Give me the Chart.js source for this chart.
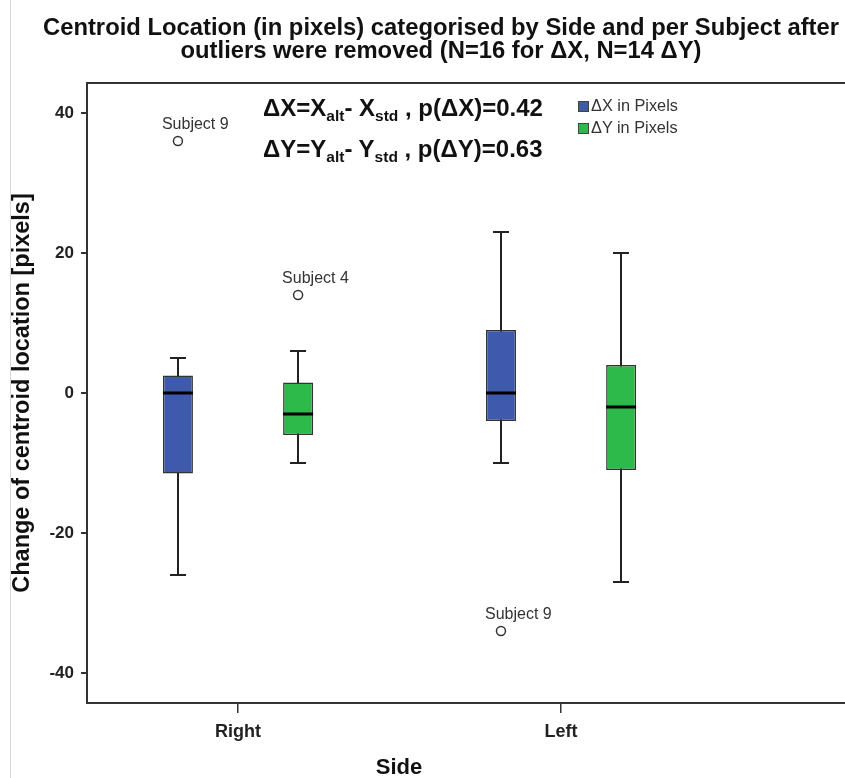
<!DOCTYPE html>
<html>
<head>
<meta charset="utf-8">
<script src="https://cdn.jsdelivr.net/npm/chart.js@4.4.1/dist/chart.umd.min.js"></script>
<style>
  body { margin: 0; background: #fff; font-family: "Liberation Sans", Arial, sans-serif; }
  #wrap { position: relative; width: 845px; height: 778px; overflow: hidden; }
  #chart { position: absolute; left: 0; top: 0; }
  #edge { position: absolute; left: 10px; top: 0; width: 1px; height: 778px; background: #d8d8d8; }
  #title { position: absolute; left: 0; top: 15px; width: 882px; text-align: center; font-weight: bold; font-size: 23.8px; line-height: 23px; color: #111; white-space: nowrap; }
  #xtitle { position: absolute; left: 299px; top: 754px; width: 200px; text-align: center; font-weight: bold; font-size: 22px; line-height: 26px; color: #111; }
  .formula { position: absolute; left: 263px; font-weight: bold; font-size: 24px; color: #111; white-space: nowrap; line-height: 26px; }
  .formula .s { font-size: 15.5px; position: relative; top: 5px; }
  #legend { position: absolute; left: 578px; top: 96px; font-size: 16.3px; color: #333; }
  #legend div { height: 22px; line-height: 18px; white-space: nowrap; }
  #legend span.box { display: inline-block; width: 11px; height: 11px; border: 1px solid #444; vertical-align: -1px; margin-right: 2px; box-sizing: border-box; }
</style>
</head>
<body>
<div id="wrap">
  <canvas id="chart" width="845" height="778"></canvas>
  <div id="edge"></div>
  <div id="title">Centroid Location (in pixels) categorised by Side and per Subject after<br>outliers were removed (N=16 for ΔX, N=14 ΔY)</div>
  <div class="formula" style="top:95px">ΔX=X<span class="s">alt</span>- X<span class="s">std</span> , p(ΔX)=0.42</div>
  <div class="formula" style="top:136px">ΔY=Y<span class="s">alt</span>- Y<span class="s">std</span> , p(ΔY)=0.63</div>
  <div id="legend"></div>
  <div id="xtitle">Side</div>
</div>
<script>
const categories = ["Right", "Left"];
const seriesNames = ["ΔX in Pixels", "ΔY in Pixels"];
const seriesColors = ["#3f59ad", "#2eb94b"];

// box plot statistics per category (Right, Left)
const dxLow = [-26, -10];
const dxQ1 = [-11.5, -4];
const dxMedian = [0, 0];
const dxQ3 = [2.5, 9];
const dxHigh = [5, 23];

const dyLow = [-10, -27];
const dyQ1 = [-6, -11];
const dyMedian = [-3, -2];
const dyQ3 = [1.5, 4];
const dyHigh = [6, 20];

// outliers
const outlierCategory = ["Right", "Right", "Left"];
const outlierSeries = [0, 1, 0];
const outlierValue = [36, 14, -34];
const outlierName = ["Subject 9", "Subject 4", "Subject 9"];

const yTicks = [-40, -20, 0, 20, 40];

const seriesOffset = [-0.186, 0.186];
const stats = [
  { low: dxLow, q1: dxQ1, median: dxMedian, q3: dxQ3, high: dxHigh },
  { low: dyLow, q1: dyQ1, median: dyMedian, q3: dyQ3, high: dyHigh },
];

Chart.defaults.font.family = "'Liberation Sans', Arial, sans-serif";

let legend = document.getElementById("legend");
for (let i = 0; i < seriesNames.length; i++) {
  let row = document.createElement("div");
  row.innerHTML = '<span class="box" style="background:' + seriesColors[i] + '"></span>' + seriesNames[i];
  legend.appendChild(row);
}

function boxDataset(s) {
  return {
    type: "bar",
    label: seriesNames[s],
    data: categories.map((c, i) => ({ x: i + 1 + seriesOffset[s], y: [stats[s].q1[i], stats[s].q3[i]] })),
    backgroundColor: seriesColors[s],
    borderColor: "#333",
    borderWidth: 1.5,
    borderSkipped: false,
    grouped: false,
    maxBarThickness: 30,
    stat: s,
  };
}

let outlierData = [];
for (let i = 0; i < outlierValue.length; i++) {
  outlierData.push({
    x: categories.indexOf(outlierCategory[i]) + 1 + seriesOffset[outlierSeries[i]],
    y: outlierValue[i],
  });
}

// whiskers, medians, outlier names and top frame line
const boxPlotPlugin = {
  id: "boxplot",
  beforeDatasetsDraw(chart) {
    let ctx = chart.ctx;
    let y = chart.scales.y;
    let area = chart.chartArea;
    ctx.save();
    ctx.strokeStyle = "#333";
    ctx.lineWidth = 2;
    ctx.beginPath();
    ctx.moveTo(area.left - 1, area.top);
    ctx.lineTo(chart.width, area.top);
    ctx.stroke();
    chart.data.datasets.forEach((ds, d) => {
      if (ds.stat === undefined) return;
      let st = stats[ds.stat];
      chart.getDatasetMeta(d).data.forEach((bar, i) => {
        let cx = Math.round(bar.x);
        let yl = y.getPixelForValue(st.low[i]);
        let yh = y.getPixelForValue(st.high[i]);
        ctx.strokeStyle = "#222";
        ctx.lineWidth = 2;
        ctx.beginPath();
        ctx.moveTo(cx, yl);
        ctx.lineTo(cx, yh);
        ctx.moveTo(cx - 8, yl);
        ctx.lineTo(cx + 8, yl);
        ctx.moveTo(cx - 8, yh);
        ctx.lineTo(cx + 8, yh);
        ctx.stroke();
      });
    });
    ctx.restore();
  },
  afterDatasetsDraw(chart) {
    let ctx = chart.ctx;
    let y = chart.scales.y;
    ctx.save();
    chart.data.datasets.forEach((ds, d) => {
      let meta = chart.getDatasetMeta(d);
      if (ds.stat !== undefined) {
        let st = stats[ds.stat];
        meta.data.forEach((bar, i) => {
          let ym = y.getPixelForValue(st.median[i]);
          ctx.strokeStyle = "#000";
          ctx.lineWidth = 3;
          ctx.beginPath();
          ctx.moveTo(bar.x - bar.width / 2, ym);
          ctx.lineTo(bar.x + bar.width / 2, ym);
          ctx.stroke();
        });
      } else {
        ctx.fillStyle = "#333";
        ctx.font = "16px 'Liberation Sans', Arial, sans-serif";
        ctx.textAlign = "left";
        ctx.textBaseline = "middle";
        meta.data.forEach((pt, i) => {
          ctx.fillText(outlierName[i], pt.x - 16, pt.y - 16);
        });
      }
    });
    ctx.restore();
  },
};

let config = {
  type: "bar",
  data: {
    datasets: [
      boxDataset(0),
      boxDataset(1),
      {
        type: "scatter",
        label: "Outliers",
        data: outlierData,
        pointRadius: 4.5,
        pointBackgroundColor: "#fff",
        pointBorderColor: "#333",
        pointBorderWidth: 1.5,
      },
    ],
  },
  options: {
    responsive: false,
    animation: false,
    layout: { autoPadding: false, padding: { top: 83, right: 0, left: 0, bottom: 0 } },
    plugins: {
      legend: { display: false },
      tooltip: { enabled: false },
      title: { display: false },
    },
    scales: {
      x: {
        type: "linear",
        offset: false,
        min: 0.5325,
        max: 2.879,
        afterFit: (s) => {
          s.height = 75;
          s.paddingLeft = 0;
          s.paddingRight = 0;
        },
        afterBuildTicks: (s) => {
          s.ticks = categories.map((c, i) => ({ value: i + 1 }));
        },
        ticks: {
          callback: (v) => categories[Math.round(v) - 1],
          font: { size: 18, weight: "bold" },
          color: "#222",
          padding: 8,
          autoSkip: false,
          maxRotation: 0,
        },
        grid: { offset: false, drawOnChartArea: false, tickLength: 10, color: "#333", lineWidth: 1.5 },
        border: { color: "#333", width: 2 },
      },
      y: {
        min: -44.3,
        max: 44.3,
        afterFit: (s) => {
          s.width = 87;
        },
        afterBuildTicks: (s) => {
          s.ticks = yTicks.map((v) => ({ value: v }));
        },
        ticks: { font: { size: 17, weight: "bold" }, color: "#222", padding: 7 },
        grid: { drawOnChartArea: false, tickLength: 6, color: "#333", lineWidth: 2 },
        border: { color: "#333", width: 2 },
        title: {
          display: true,
          text: "Change of centroid location [pixels]",
          font: { size: 23.5, weight: "bold" },
          color: "#111",
          padding: { top: 8, bottom: 0 },
        },
      },
    },
  },
  plugins: [boxPlotPlugin],
};

let chart = new Chart(document.getElementById("chart"), config);
</script>
</body>
</html>
